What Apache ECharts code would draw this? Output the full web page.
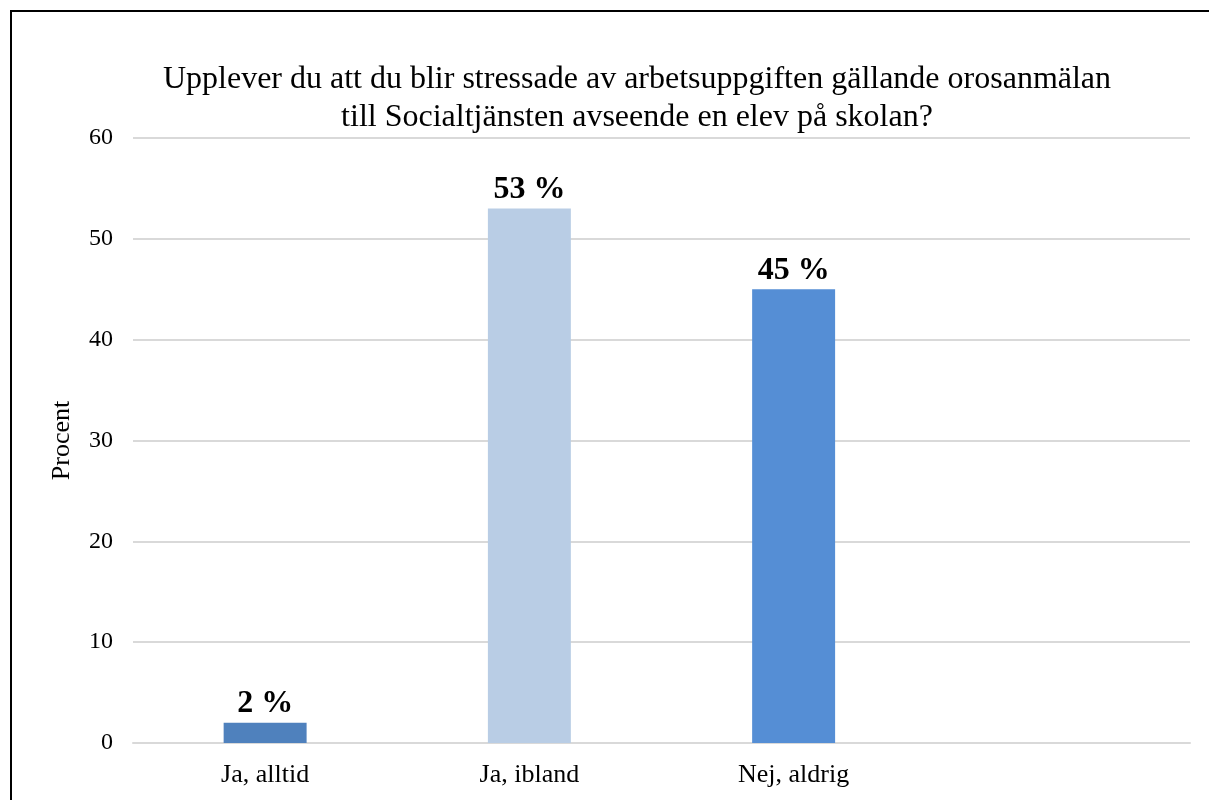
<!DOCTYPE html>
<html>
<head>
<meta charset="utf-8">
<script src="https://cdn.jsdelivr.net/npm/echarts@6/dist/echarts.min.js"></script>
<style>
html,body{margin:0;padding:0;background:#fff;overflow:hidden;}
#frame{position:absolute;left:10px;top:10px;width:1300px;height:900px;border:2px solid #000;box-sizing:border-box;}
#chart{position:absolute;left:0;top:0;width:1209px;height:800px;}
</style>
</head>
<body>
<div id="frame"></div>
<div id="chart"></div>
<script>
const titleLines = ['Upplever du att du blir stressade av arbetsuppgiften gällande orosanmälan', 'till Socialtjänsten avseende en elev på skolan?'];
const categories = ['Ja, alltid', 'Ja, ibland', 'Nej, aldrig', ''];
const values = [2, 53, 45, null];
const barColors = ['#4f81bd', '#b9cde5', '#558ed5', '#558ed5'];
const yTicks = { min: 0, max: 60, interval: 10 };
const yName = 'Procent';

const chart = echarts.init(document.getElementById('chart'));
chart.setOption({
  backgroundColor: 'transparent',
  animation: false,
  textStyle: { fontFamily: 'Liberation Serif' },
  title: {
    text: titleLines.join('\n'),
    left: 632, top: 56, textAlign: 'center',
    textStyle: { fontFamily: 'Liberation Serif', fontSize: 32, fontWeight: 'normal', color: '#000', lineHeight: 38 }
  },
  grid: { left: 133, right: 19, top: 138, bottom: 57 },
  xAxis: {
    type: 'category', data: categories,
    axisLine: { show: true, lineStyle: { color: '#d9d9d9', width: 2 } },
    axisTick: { show: false },
    axisLabel: { color: '#000', fontSize: 26, fontFamily: 'Liberation Serif', margin: 19 }
  },
  yAxis: {
    type: 'value', min: yTicks.min, max: yTicks.max, interval: yTicks.interval,
    name: yName, nameLocation: 'middle', nameGap: 58, nameRotate: 90,
    nameTextStyle: { color: '#000', fontSize: 26, fontFamily: 'Liberation Serif' },
    axisLine: { show: false }, axisTick: { show: false },
    axisLabel: { color: '#000', fontSize: 24, fontFamily: 'Liberation Serif', margin: 20 },
    splitLine: { lineStyle: { color: '#d9d9d9', width: 2 } }
  },
  series: [{
    type: 'bar',
    barWidth: '31.4%',
    data: values.map((v, i) => ({ value: v, itemStyle: { color: barColors[i] } })),
    label: {
      show: true, position: 'top', distance: 3,
      formatter: p => p.value == null ? '' : p.value + ' %',
      color: '#000', fontSize: 32, fontWeight: 'bold', fontFamily: 'Liberation Serif'
    }
  }]
});
</script>
</body>
</html>
